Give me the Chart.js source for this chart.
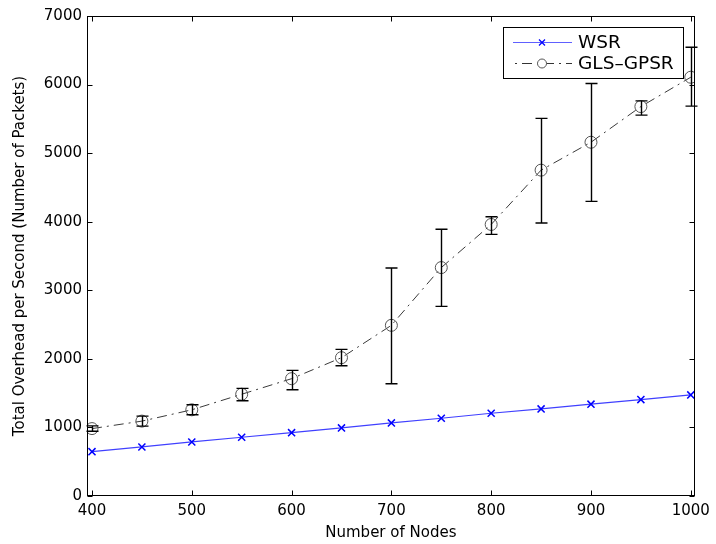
<!DOCTYPE html>
<html>
<head>
<meta charset="utf-8">
<script src="https://cdn.jsdelivr.net/npm/chart.js@4/dist/chart.umd.min.js"></script>
<style>
html,body{margin:0;padding:0;background:#fff;}
#c{display:block;}
</style>
</head>
<body>
<canvas id="c" width="716" height="544"></canvas>
<script>
const nodes = [400, 450, 500, 550, 600, 650, 700, 750, 800, 850, 900, 950, 1000];
const wsr = [647, 715, 788, 857, 924, 993, 1066, 1134, 1207, 1270, 1339, 1406, 1474];
const glsGpsr = [983, 1092, 1257, 1484, 1711, 2017, 2489, 3331, 3960, 4752, 5159, 5679, 6107];
const glsLow = [945, 1019, 1185, 1390, 1550, 1900, 1638, 2766, 3815, 3982, 4297, 5555, 5686];
const glsHigh = [1022, 1165, 1331, 1569, 1832, 2139, 3326, 3890, 4072, 5507, 6015, 5762, 6545];
const xTicks = [400, 500, 600, 700, 800, 900, 1000];
const yTicks = [0, 1000, 2000, 3000, 4000, 5000, 6000, 7000];
const seriesNames = ['WSR', 'GLS\u2013GPSR'];

const FONT = 'DejaVu Sans';

const errorBarPlugin = {
  id: 'errorBars',
  afterDatasetsDraw(chart) {
    const {ctx, scales: {x, y}} = chart;
    ctx.save();
    ctx.strokeStyle = '#000';
    ctx.lineWidth = 1.4;
    const cap = 6;
    nodes.forEach((n, i) => {
      const px = Math.round(x.getPixelForValue(n)) + 0.5;
      const yl = y.getPixelForValue(glsLow[i]);
      const yh = y.getPixelForValue(glsHigh[i]);
      ctx.beginPath();
      ctx.moveTo(px, yl); ctx.lineTo(px, yh);
      ctx.moveTo(px - cap, yl); ctx.lineTo(px + cap, yl);
      ctx.moveTo(px - cap, yh); ctx.lineTo(px + cap, yh);
      ctx.stroke();
    });
    ctx.restore();
  }
};

const boxPlugin = {
  id: 'matlabBox',
  afterDraw(chart) {
    const {ctx, chartArea: a, scales: {x, y}} = chart;
    ctx.save();
    ctx.strokeStyle = '#000';
    ctx.lineWidth = 1;
    const L = Math.round(a.left) + 0.5, R = Math.round(a.right) - 0.5;
    const T = Math.round(a.top) + 0.5, B = Math.round(a.bottom) - 0.5;
    ctx.strokeRect(L, T, R - L, B - T);
    const tl = 5;
    ctx.beginPath();
    xTicks.forEach(v => {
      const px = Math.round(x.getPixelForValue(v)) + 0.5;
      ctx.moveTo(px, B); ctx.lineTo(px, B - tl);
      ctx.moveTo(px, T); ctx.lineTo(px, T + tl);
    });
    yTicks.forEach(v => {
      const py = Math.round(y.getPixelForValue(v)) + 0.5;
      ctx.moveTo(L, py); ctx.lineTo(L + tl, py);
      ctx.moveTo(R, py); ctx.lineTo(R - tl, py);
    });
    ctx.stroke();

    // legend
    const lx = 503.5, ly = 27.5, lw = 180, lh = 51;
    ctx.fillStyle = '#fff';
    ctx.fillRect(lx, ly, lw, lh);
    ctx.strokeRect(lx, ly, lw, lh);
    const rows = [ly + 15, ly + 36];
    ctx.strokeStyle = '#6060ff';
    ctx.lineWidth = 1.2;
    ctx.beginPath(); ctx.moveTo(513, rows[0]); ctx.lineTo(572, rows[0]); ctx.stroke();
    ctx.strokeStyle = '#0000ff';
    ctx.lineWidth = 1.2;
    ctx.beginPath();
    ctx.moveTo(539, rows[0] - 3); ctx.lineTo(545, rows[0] + 3);
    ctx.moveTo(545, rows[0] - 3); ctx.lineTo(539, rows[0] + 3);
    ctx.stroke();
    ctx.strokeStyle = '#333';
    ctx.lineWidth = 1;
    ctx.setLineDash([10, 5, 2, 5]);
    ctx.lineDashOffset = 13;
    ctx.beginPath(); ctx.moveTo(513, rows[1]); ctx.lineTo(572, rows[1]); ctx.stroke();
    ctx.setLineDash([]);
    ctx.fillStyle = '#fff';
    ctx.beginPath(); ctx.arc(542, rows[1], 4.5, 0, Math.PI * 2); ctx.fill();
    ctx.strokeStyle = '#555';
    ctx.stroke();
    ctx.fillStyle = '#000';
    ctx.font = '18.5px "' + FONT + '"';
    ctx.textBaseline = 'middle';
    ctx.textAlign = 'left';
    ctx.fillText(seriesNames[0], 578, rows[0] + 1);
    ctx.fillText(seriesNames[1], 578, rows[1] + 1);
    ctx.restore();
  }
};

const ctx = document.getElementById('c').getContext('2d');
new Chart(ctx, {
  type: 'line',
  data: {
    datasets: [
      {
        label: seriesNames[0],
        data: nodes.map((n, i) => ({x: n, y: wsr[i]})),
        borderColor: '#4040ff',
        borderWidth: 1.2,
        pointStyle: 'crossRot',
        pointRadius: 5,
        pointBorderColor: '#0000ff',
        pointBorderWidth: 1.5,
        pointBackgroundColor: '#0000ff',
        fill: false,
        tension: 0
      },
      {
        label: seriesNames[1],
        data: nodes.map((n, i) => ({x: n, y: glsGpsr[i]})),
        borderColor: '#3a3a3a',
        borderWidth: 1,
        borderDash: [10, 5, 2, 5],
        pointStyle: 'circle',
        pointRadius: 6,
        pointBorderColor: '#555',
        pointBorderWidth: 1,
        pointBackgroundColor: 'rgba(0,0,0,0)',
        fill: false,
        tension: 0
      }
    ]
  },
  options: {
    responsive: false,
    animation: false,
    devicePixelRatio: 1,
    layout: {padding: {left: 0, right: 21, top: 16, bottom: 0}},
    plugins: {
      legend: {display: false},
      tooltip: {enabled: false}
    },
    scales: {
      x: {
        type: 'linear',
        min: 395,
        max: 1004,
        afterBuildTicks: s => { s.ticks = xTicks.map(v => ({value: v})); },
        afterFit: s => { s.height = 48; },
        grid: {display: false, drawTicks: false},
        border: {display: false},
        ticks: {
          padding: 6,
          color: '#000',
          font: {family: FONT, size: 15},
          maxRotation: 0,
          autoSkip: false,
          callback: v => String(v)
        },
        title: {
          display: true,
          text: 'Number of Nodes',
          color: '#000',
          font: {family: FONT, size: 15},
          padding: {top: 0, bottom: 2}
        }
      },
      y: {
        type: 'linear',
        min: 0,
        max: 7000,
        afterBuildTicks: s => { s.ticks = yTicks.map(v => ({value: v})); },
        afterFit: s => { s.width = 87; },
        grid: {display: false, drawTicks: false},
        border: {display: false},
        ticks: {
          padding: 5,
          color: '#000',
          font: {family: FONT, size: 15},
          callback: v => String(v)
        },
        title: {
          display: true,
          text: 'Total Overhead per Second (Number of Packets)',
          color: '#000',
          font: {family: FONT, size: 15},
          padding: {top: 11, bottom: 0}
        }
      }
    }
  },
  plugins: [errorBarPlugin, boxPlugin]
});
</script>
</body>
</html>
